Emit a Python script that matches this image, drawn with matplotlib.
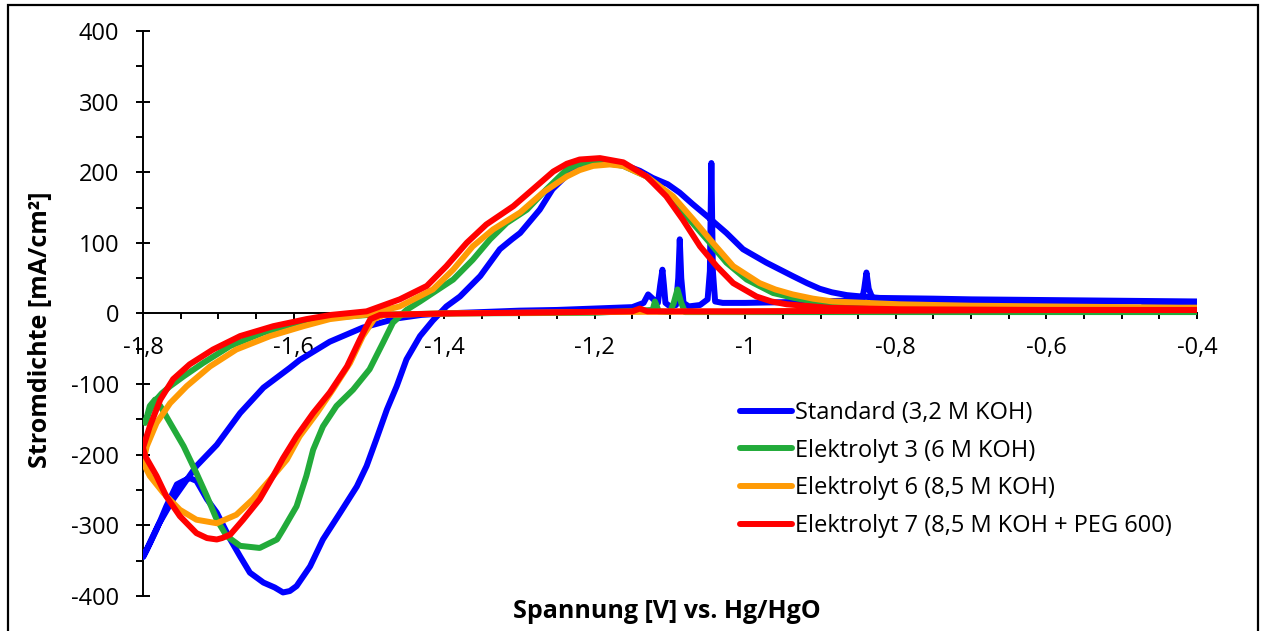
import matplotlib
matplotlib.use('Agg')
import matplotlib.pyplot as plt
from matplotlib.patches import Rectangle
from matplotlib.ticker import MultipleLocator, FuncFormatter

plt.rcParams['font.family'] = ['Open Sans', 'DejaVu Sans']

# cyclic voltammograms, potential in V vs. Hg/HgO, current density in mA/cm2
std_x = [-0.40, -0.47, -0.472, -0.60, -0.70, -0.80, -0.83, -0.836, -0.839, -0.842, -0.845, -0.90, -0.95,
         -1.00, -1.03, -1.040, -1.043, -1.045, -1.047, -1.050, -1.060, -1.075, -1.082, -1.085, -1.087,
         -1.089, -1.092, -1.100, -1.106, -1.108, -1.110, -1.113, -1.116, -1.122, -1.129, -1.135, -1.15,
         -1.20, -1.25, -1.30, -1.35, -1.40, -1.43, -1.463, -1.508, -1.552, -1.592, -1.605, -1.640, -1.671,
         -1.702, -1.729, -1.760, -1.780, -1.800,
         -1.795, -1.782, -1.769, -1.755, -1.746, -1.738, -1.729, -1.715, -1.702, -1.684, -1.671, -1.658,
         -1.640, -1.625, -1.614, -1.605, -1.596, -1.578, -1.561, -1.538, -1.516, -1.503, -1.490, -1.476,
         -1.463, -1.450, -1.432, -1.415, -1.397, -1.379, -1.352, -1.326, -1.310, -1.299, -1.273, -1.256,
         -1.229, -1.202, -1.185, -1.162, -1.140, -1.123, -1.103, -1.087, -1.070, -1.051, -1.025, -1.003,
         -0.972, -0.937, -0.918, -0.901, -0.885, -0.865, -0.845, -0.821, -0.75, -0.70, -0.60, -0.50, -0.40]
std_y = [16, 15, 17, 17, 18, 18, 19, 35, 58, 35, 19, 17, 16,
         15, 15, 17, 60, 213, 60, 20, 12, 10, 15, 50, 105,
         50, 12, 10, 15, 40, 62, 40, 15, 20, 27, 15, 9,
         7, 5, 4, 2, 0, -2, -7, -20, -40, -66, -77, -105, -141,
         -186, -216, -263, -300, -345,
         -335, -306, -273, -242, -237, -233, -237, -263, -282, -320, -344, -367,
         -381, -388, -395, -393, -386, -358, -320, -282, -245, -216, -178, -136,
         -103, -65, -32, -10, 10, 24, 53, 91, 105, 114, 147, 176,
         204, 214, 213, 211, 202, 192, 183, 171, 155, 138, 114, 91,
         72, 53, 43, 35, 30, 26, 24, 22, 21, 20, 19, 18, 17]

e3_x = [-0.40, -0.60, -0.80, -1.00, -1.08, -1.085, -1.090, -1.095, -1.10, -1.115, -1.118, -1.120, -1.123,
        -1.20, -1.40, -1.50, -1.552, -1.596, -1.640, -1.684, -1.720, -1.746, -1.764, -1.775, -1.785,
        -1.792, -1.797, -1.791, -1.784, -1.777, -1.764, -1.746, -1.729, -1.715, -1.702, -1.689, -1.671,
        -1.645, -1.622, -1.614, -1.596, -1.583, -1.574, -1.561, -1.543, -1.521, -1.499, -1.481, -1.468,
        -1.450, -1.432, -1.415, -1.388, -1.362, -1.339, -1.317, -1.290, -1.264, -1.237, -1.220, -1.202,
        -1.185, -1.162, -1.131, -1.100, -1.074, -1.047, -1.025, -0.998, -0.963, -0.935, -0.910, -0.870,
        -0.821, -0.70, -0.60, -0.40]
e3_y = [2, 2, 2, 2, 2, 15, 34, 15, 2, 3, 12, 17, 5,
        1, 0, -2, -6, -13, -27, -46, -70, -89, -103, -113, -125,
        -140, -155, -131, -122, -131, -155, -188, -226, -259, -292, -315, -329,
        -332, -320, -306, -273, -230, -193, -160, -131, -108, -79, -41, -13,
        5, 17, 29, 48, 76, 105, 128, 147, 176, 204, 212, 215,
        213, 209, 194, 166, 133, 100, 72, 48, 29, 22, 17, 13,
        10, 7, 5, 3]

e6_x = [-0.40, -0.60, -0.80, -1.00, -1.20, -1.40, -1.48, -1.493, -1.508, -1.525, -1.548, -1.569, -1.592,
        -1.609, -1.631, -1.654, -1.676, -1.702, -1.729, -1.751, -1.773, -1.791, -1.800, -1.795, -1.782,
        -1.764, -1.742, -1.711, -1.676, -1.631, -1.587, -1.552, -1.503, -1.459, -1.415, -1.388, -1.362,
        -1.335, -1.299, -1.269, -1.237, -1.220, -1.202, -1.180, -1.162, -1.131, -1.096, -1.069, -1.043,
        -1.016, -0.981, -0.960, -0.937, -0.910, -0.884, -0.840, -0.795, -0.70, -0.60, -0.40]
e6_y = [8, 6, 5, 3, 2, 0, -2, -8, -32, -70, -108, -141, -174,
        -207, -235, -263, -285, -297, -292, -278, -254, -230, -211, -188, -155,
        -127, -103, -75, -51, -32, -18, -8, -1.5, 10, 34, 62, 95,
        119, 143, 171, 194, 203, 209, 211, 209, 194, 166, 133, 100,
        67, 43, 34, 27, 21, 17, 15, 13, 11, 10, 8]

e7_x = [-0.40, -0.60, -0.80, -1.00, -1.13, -1.14, -1.15, -1.30, -1.40, -1.485, -1.498, -1.503, -1.512,
        -1.529, -1.552, -1.574, -1.596, -1.614, -1.627, -1.645, -1.667, -1.684, -1.695, -1.702, -1.715,
        -1.729, -1.751, -1.769, -1.782, -1.797, -1.800, -1.791, -1.777, -1.760, -1.738, -1.707, -1.671,
        -1.627, -1.583, -1.550, -1.503, -1.459, -1.423, -1.397, -1.370, -1.344, -1.308, -1.282, -1.255,
        -1.237, -1.220, -1.193, -1.162, -1.131, -1.105, -1.083, -1.060, -1.038, -1.016, -0.985, -0.965,
        -0.945, -0.888, -0.795, -0.60, -0.40]
e7_y = [5, 5, 4, 3, 3, 7, 3, 1, 0, -2, -8, -18, -37,
        -75, -112, -141, -174, -205, -230, -263, -292, -313, -318, -320, -318,
        -311, -287, -259, -230, -202, -190, -160, -122, -93, -72, -51, -32,
        -18, -8, -2, 3, 20, 39, 67, 100, 126, 152, 176, 201,
        212, 218, 220, 214, 194, 166, 133, 95, 67, 43, 24, 17,
        13, 8, 6, 5, 5]

labels = ['Standard (3,2 M KOH)', 'Elektrolyt 3 (6 M KOH)',
          'Elektrolyt 6 (8,5 M KOH)', 'Elektrolyt 7 (8,5 M KOH + PEG 600)']
colors = ['#0000ff', '#22ab3a', '#ff9b05', '#ff0000']


def comma(v, pos):
    return ('%g' % round(v, 2)).replace('.', ',')


def main():
    fig = plt.figure(figsize=(12.61, 6.31), dpi=100)
    ax = fig.add_axes([0.1134, 0.0555, 0.8358, 0.8954])

    series = [(std_x, std_y), (e3_x, e3_y), (e6_x, e6_y), (e7_x, e7_y)]
    for i, (xs, ys) in enumerate(series):
        ax.plot(xs, ys, color=colors[i], lw=4.3, label=labels[i],
                solid_joinstyle='round', solid_capstyle='round', zorder=3 + i)

    ax.set_xlim(-1.8, -0.4)
    ax.set_ylim(-400, 400)

    ax.spines['top'].set_visible(False)
    ax.spines['right'].set_visible(False)
    ax.spines['bottom'].set_position(('data', 0))
    for s in ('left', 'bottom'):
        ax.spines[s].set_linewidth(1.4)

    ax.xaxis.set_major_locator(MultipleLocator(0.2))
    ax.xaxis.set_minor_locator(MultipleLocator(0.05))
    ax.yaxis.set_major_locator(MultipleLocator(100))
    ax.yaxis.set_minor_locator(MultipleLocator(50))
    ax.xaxis.set_major_formatter(FuncFormatter(comma))
    ax.yaxis.set_major_formatter(FuncFormatter(comma))

    ax.tick_params(axis='x', which='both', direction='out', length=4, width=1.4,
                   labelsize=17, pad=12)
    ax.tick_params(axis='y', which='major', direction='inout', length=10, width=1.4,
                   labelsize=17, pad=12)
    ax.tick_params(axis='y', which='minor', direction='out', length=5, width=1.4)

    fig.text(40 / 1261, 1 - 330 / 631, 'Stromdichte [mA/cm²]', rotation=90,
             ha='center', va='center', fontsize=18, fontweight='bold')
    fig.text(667 / 1261, 1 - 611 / 631, 'Spannung [V] vs. Hg/HgO',
             ha='center', va='center', fontsize=18, fontweight='bold')

    ax.legend(loc='upper left', bbox_to_anchor=(740 / 1261, 1 - 401 / 631),
              bbox_transform=fig.transFigure, frameon=False, fontsize=17,
              handlelength=2.2, handletextpad=0.13, labelspacing=0.58,
              borderpad=0, borderaxespad=0)

    # frame around the whole chart
    fig.patches.append(Rectangle((8 / 1261, -0.05), 1250 / 1261, 1.05 - 5 / 631,
                                 transform=fig.transFigure, fill=False,
                                 edgecolor='black', lw=1.6))

    fig.savefig('out.png', dpi=100)


if __name__ == '__main__':
    main()
